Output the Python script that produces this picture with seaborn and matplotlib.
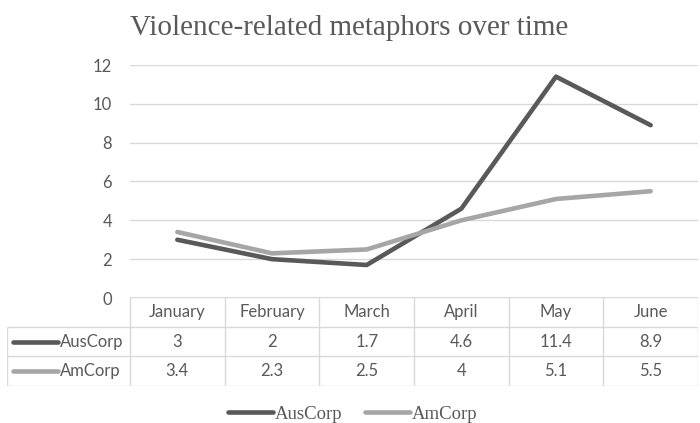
import pandas as pd
import matplotlib
matplotlib.use("Agg")
import matplotlib.pyplot as plt
import seaborn as sns

# Data
months = ["January", "February", "March", "April", "May", "June"]
aus_corp = [3, 2, 1.7, 4.6, 11.4, 8.9]
am_corp = [3.4, 2.3, 2.5, 4, 5.1, 5.5]
series_names = ["AusCorp", "AmCorp"]
colors = ["#595959", "#A6A6A6"]

df = pd.DataFrame({
    "month": months * 2,
    "idx": list(range(len(months))) * 2,
    "value": aus_corp + am_corp,
    "series": ["AusCorp"] * len(months) + ["AmCorp"] * len(months),
})

sns.set_style("white")
plt.rcParams["font.family"] = ["Lato", "DejaVu Sans"]
text_col = "#595959"
grid_col = "#D9D9D9"

W, H = 700, 423
fig = plt.figure(figsize=(W / 100, H / 100), dpi=100)

# main plot area (pixel geometry of the reference)
px_left, px_right, px_top, px_bottom = 130, 698, 65, 298
ax = fig.add_axes([px_left / W, 1 - px_bottom / H, (px_right - px_left) / W, (px_bottom - px_top) / H])
sns.lineplot(data=df, x="idx", y="value", hue="series", hue_order=series_names,
             palette=colors, linewidth=3.3, ax=ax, legend=False)
ax.set_xlim(-0.5, len(months) - 0.5)
ax.set_ylim(0, 12)
ax.set_yticks(range(0, 13, 2))
ax.set_xticks([])
ax.set_xlabel("")
ax.set_ylabel("")
for s in ax.spines.values():
    s.set_visible(False)
ax.yaxis.grid(True, color=grid_col, linewidth=1)
ax.set_axisbelow(True)
ax.tick_params(axis="y", length=0, pad=13, labelsize=12, labelcolor=text_col)

# data table below the chart
unit = (px_right - px_left) / len(months)
tb_left, tb_top, tb_bottom = 7, 297, 386
tax = fig.add_axes([tb_left / W, 1 - tb_bottom / H, (px_right - tb_left) / W, (tb_bottom - tb_top) / H])
x0 = -0.5 - (px_left - tb_left) / unit
tax.set_xlim(x0, len(months) - 0.5)
tax.set_ylim(3, 0)
tax.axis("off")
lw = 1
# horizontal lines
tax.hlines(0, -0.5, len(months) - 0.5, color=grid_col, lw=lw)
for r in (1, 2, 3):
    tax.hlines(r, x0, len(months) - 0.5, color=grid_col, lw=lw)
# vertical lines
for i in range(len(months) + 1):
    tax.vlines(i - 0.5, 0, 3, color=grid_col, lw=lw)
tax.vlines(x0, 1, 3, color=grid_col, lw=lw)

for i, m in enumerate(months):
    tax.text(i, 0.5, m, ha="center", va="center", fontsize=12, color=text_col)
for r, (name, vals, c) in enumerate(zip(series_names, [aus_corp, am_corp], colors), start=1):
    for i, v in enumerate(vals):
        tax.text(i, r + 0.5, f"{v:g}", ha="center", va="center", fontsize=12, color=text_col)
    tax.plot([x0 + 6 / unit, x0 + 51 / unit], [r + 0.5, r + 0.5], color=c, lw=3.3, solid_capstyle="round")
    tax.text(x0 + 53 / unit, r + 0.5, name, ha="left", va="center", fontsize=12, color=text_col)

# title
fig.text(130 / W, 1 - 35 / H, "Violence-related metaphors over time", ha="left", va="baseline",
         fontsize=21, color=text_col, family="Liberation Serif")

# bottom legend
handles = [plt.Line2D([], [], color=c, lw=3.3) for c in colors]
fig.legend(handles, series_names, loc="center", bbox_to_anchor=(353 / W, 1 - 414 / H), ncol=2,
           frameon=False, handlelength=2.4, handletextpad=0.1, columnspacing=1.2,
           prop={"family": "Liberation Serif", "size": 13.5}, labelcolor=text_col)

fig.savefig("out.png", dpi=100)
